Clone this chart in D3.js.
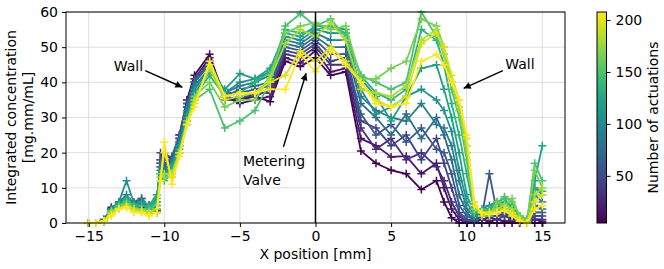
<!DOCTYPE html>
<html>
<head>
<meta charset="utf-8">
<script src="https://cdn.jsdelivr.net/npm/d3@7"></script>
<style>
  body { margin: 0; background: #fff; }
  svg { display: block; font-family: "DejaVu Sans", sans-serif; }
</style>
</head>
<body>
<svg id="chart" width="664" height="269"></svg>
<script>
"use strict"

// x positions of the measurement points [mm]
var xPositions = [-15, -14.5, -14, -13.5, -13, -12.5, -12, -11.5, -11, -10.5, -10.25, -10, -9.5, -9, -8.5, -8,
    -7, -6, -5, -4, -3, -2, -1, 0, 1, 2, 3, 4, 5, 6, 7, 8, 8.5, 9, 9.5, 10, 10.5,
    11, 11.5, 12, 12.5, 13, 13.5, 14, 14.5, 15];

// number of actuations for each profile
var actuations = [5, 15, 30, 45, 60, 75, 90, 105, 120, 135, 150, 165, 180, 195, 208];

// integrated concentration [mg.mm/mL], one profile per actuation count
var act005 = [0, 0, 0.5, 4, 5, 5.5, 5, 4, 5, 3, 17, 20, 18, 25, 35, 42, 48, 35, 35, 36, 34.5, 46, 44.5, 47, 42, 43, 20.5, 17, 15, 14, 9.5, 12, 6, 1.5, 0, 0, 0, 0, 0, 0, 0, 0, 0, 0, 0, 0];
var act015 = [0, 0, 0.5, 4.5, 5, 6, 5.5, 6, 4.5, 3.5, 18, 19, 17, 24, 34, 41, 47, 36, 34, 35, 36, 47, 45.5, 49, 43, 44, 24, 22, 18.8, 19, 14, 17, 10, 4, 1, 0, 0.5, 1, 0.5, 1, 0.5, 0.5, 0, 0, 1, 0.5];
var act030 = [0, 0, 1, 4, 5.5, 6, 5, 5.5, 4, 4, 16, 18, 18, 23, 33, 40, 46, 36, 35, 37, 37, 48, 47, 50, 45, 45, 27, 21, 24, 18, 20, 16, 12, 6, 2, 0.5, 0, 1, 1.5, 1, 2, 1, 0.5, 0, 1, 1];
var act045 = [0, 0, 0.5, 3.5, 5, 6.5, 5, 7, 4, 3.5, 20, 17, 17, 24, 33, 40, 46, 35, 36, 36, 38, 49, 48, 51, 46, 47, 29, 27, 22, 25, 18, 24, 17, 10, 3, 1, 0.5, 2, 2, 2, 2.5, 1.5, 0.5, 0, 2, 2];
var act060 = [0, 0, 0.5, 4, 5.5, 6, 5.5, 5, 5, 4, 18, 16, 19, 25, 34, 41, 46, 37, 37, 38, 39, 50, 49, 52, 48, 48, 31, 25, 28, 23, 27, 21, 20, 14, 5, 2, 1, 2, 14, 3, 3, 2, 1, 0.5, 3, 3];
var act075 = [0, 0, 0.5, 3.5, 6, 7, 6, 7, 4.5, 5, 17, 15, 18, 24, 33, 40, 45, 36, 38, 39, 40, 51, 50, 53, 50, 50, 34, 30, 25, 31, 24, 30, 25, 18, 8, 3, 1, 2.5, 3, 4, 3, 3, 1, 0.5, 5, 4];
var act090 = [0, 0, 1, 4, 6, 8, 5, 6, 5, 6, 16, 15, 17, 23, 32, 39, 44, 37, 39, 40, 42, 52, 51, 54, 52, 52, 36, 32, 30, 29, 34, 28, 27, 22, 12, 4, 2, 3, 4, 5, 4, 4, 1.5, 1, 8, 6];
var act105 = [0, 0, 0.5, 4, 6, 12, 5.5, 5, 4, 7, 15, 14, 16, 22, 31, 38, 44, 37, 40, 41, 43, 53, 52, 55, 54, 54, 38, 31, 33, 36, 38, 35, 32, 26, 15, 6, 2, 4, 5, 6, 5, 5, 2, 1, 10, 8];
var act120 = [0, 0, 0.5, 3.5, 5.5, 7, 5, 6, 5, 8, 14, 13, 16, 22, 30, 37, 43, 38, 42.5, 41, 44, 54, 53, 56, 56, 55, 41, 36, 29, 36, 44, 45, 38, 30, 20, 8, 3, 3, 4, 5, 6, 5, 2, 1, 12, 22];
var act135 = [0, 0, 0.5, 3, 5, 6.5, 5, 5, 4.5, 6, 14, 13, 15, 21, 29, 36, 42, 36, 37, 40, 43, 55, 54, 55, 56, 54, 42, 37, 35, 38, 55, 52, 45, 34, 25, 14, 3, 3, 4, 6, 7, 4, 1.5, 1, 10, 9];
var act150 = [0, 0, 0.5, 3, 5, 6, 4.5, 4, 4, 5, 13, 12, 14, 20, 28, 35, 38, 27, 29, 32, 40, 56, 59.5, 56, 58, 53, 42, 40, 38, 40, 60, 53, 48, 38, 30, 18, 3, 4, 3, 5, 7.5, 6, 2, 1, 17, 12];
var act165 = [0, 0, 0.5, 3.5, 4.5, 5.5, 4, 4, 3, 4, 14, 13, 13, 20, 28, 36, 40, 33, 35, 35, 42, 54, 56, 57, 55, 56, 41, 41, 44, 46, 58, 56, 50, 40, 32, 20, 4, 3, 2, 6, 5, 7, 2, 0.5, 15, 10];
var act180 = [0, 0, 0.5, 3, 4, 5, 4, 3.5, 3, 4, 13, 14, 14, 20, 29, 35, 44, 35, 36, 37, 41, 51, 55, 53, 57, 52, 38, 37, 36, 39, 52, 55, 48, 40, 33, 22, 5, 3, 3, 4, 5, 4, 1, 0, 8, 10];
var act195 = [0, 0, 0.5, 2.5, 4, 4.5, 3.5, 3, 2.5, 3, 12, 20, 13, 20, 28, 34, 45, 36, 37, 37, 40, 42, 49, 46, 50, 46, 40, 35, 33, 36, 51, 54, 50, 42, 35, 24, 6, 2, 3, 3, 4, 3, 1, 0, 6, 8];
var act208 = [0, 0, 0.5, 2, 4, 4.5, 3, 3, 2, 3, 12, 23, 11, 19, 28, 33, 46, 36, 37, 37, 38, 38, 48, 43, 49, 45, 40, 34, 33, 34, 46, 48, 45, 40, 35, 25, 5, 3, 2.5, 3, 3.5, 2, 0.5, 0, 4, 5];

var profiles = [act005, act015, act030, act045, act060, act075, act090, act105, act120, act135,
    act150, act165, act180, act195, act208];

var xTicks = [-15, -10, -5, 0, 5, 10, 15];
var yTicks = [0, 10, 20, 30, 40, 50, 60];
var colorTicks = [50, 100, 150, 200];

var margin = { top: 12, right: 99, bottom: 46, left: 66 };
var svg = d3.select("#chart"),
    width = +svg.attr("width") - margin.left - margin.right,
    height = +svg.attr("height") - margin.top - margin.bottom;

var xScale = d3.scaleLinear().domain([-16.5, 16.5]).range([0, width]);
var yScale = d3.scaleLinear().domain([0, 60]).range([height, 0]);
var colorDomain = [4.6, 207.7];
var colorScale = d3.scaleSequential(d3.interpolateViridis).domain(colorDomain);

var g = svg.append("g")
    .attr("transform", "translate(" + margin.left + "," + margin.top + ")");

// grid
g.append("g").selectAll("line").data(xTicks).enter().append("line")
    .attr("x1", d => xScale(d)).attr("x2", d => xScale(d))
    .attr("y1", 0).attr("y2", height)
    .attr("stroke", "#dddddd").attr("stroke-width", 1);
g.append("g").selectAll("line").data(yTicks).enter().append("line")
    .attr("x1", 0).attr("x2", width)
    .attr("y1", d => yScale(d)).attr("y2", d => yScale(d))
    .attr("stroke", "#dddddd").attr("stroke-width", 1);

g.append("clipPath").attr("id", "clip")
    .append("rect").attr("x", -6).attr("y", -2).attr("width", width + 12).attr("height", height + 8);

var plot = g.append("g").attr("clip-path", "url(#clip)");

var line = d3.line()
    .x((d, i) => xScale(xPositions[i]))
    .y(d => yScale(d));

profiles.forEach(function(values, k) {
    var c = colorScale(actuations[k]);
    var sg = plot.append("g");
    sg.append("path")
        .datum(values)
        .attr("d", line)
        .attr("fill", "none")
        .attr("stroke", c)
        .attr("stroke-width", 1.8)
        .attr("stroke-linejoin", "round");
    sg.selectAll("path.m").data(values).enter().append("path")
        .attr("class", "m")
        .attr("transform", (d, i) => "translate(" + xScale(xPositions[i]) + "," + yScale(d) + ")")
        .attr("d", "M-4,0H4M0,-4V4")
        .attr("stroke", c)
        .attr("stroke-width", 1.5);
});

// vertical line at x = 0
g.append("line")
    .attr("x1", xScale(0)).attr("x2", xScale(0))
    .attr("y1", 0).attr("y2", height)
    .attr("stroke", "#000").attr("stroke-width", 1.5);

// axes
var xAxis = g.append("g")
    .attr("transform", "translate(0," + height + ")")
    .call(d3.axisBottom(xScale).tickValues(xTicks).tickSize(4).tickPadding(4)
        .tickFormat(d => d < 0 ? "\u2212" + Math.abs(d) : d));
var yAxis = g.append("g")
    .call(d3.axisLeft(yScale).tickValues(yTicks).tickSize(4).tickPadding(4));
[xAxis, yAxis].forEach(function(a) {
    a.select(".domain").remove();
    a.selectAll("text").style("font-size", "14px").attr("fill", "#000").style("font-family", "DejaVu Sans");
    a.selectAll("line").attr("stroke", "#000");
});

g.append("rect")
    .attr("width", width).attr("height", height)
    .attr("fill", "none").attr("stroke", "#000").attr("stroke-width", 1);

// axis labels
g.append("text")
    .attr("x", xScale(0)).attr("y", height + 36)
    .attr("text-anchor", "middle")
    .style("font-size", "14px")
    .text("X position [mm]");

var yl = g.append("text")
    .attr("transform", "translate(" + (-48) + "," + (height / 2) + ") rotate(-90)")
    .attr("text-anchor", "middle")
    .style("font-size", "14px");
yl.append("tspan").attr("x", 0).attr("dy", "-0.15em").text("Integrated concentration");
yl.append("tspan").attr("x", 0).attr("dy", "1.2em").text("[mg.mm/mL]");

// annotations
var defs = svg.append("defs");
defs.append("marker")
    .attr("id", "head")
    .attr("viewBox", "0 0 10 10")
    .attr("refX", 10).attr("refY", 5)
    .attr("markerWidth", 9).attr("markerHeight", 7)
    .attr("markerUnits", "userSpaceOnUse")
    .attr("orient", "auto")
    .append("path").attr("d", "M0,0L10,5L0,10z").attr("fill", "#000");

var notes = [
    { text: ["Wall"], tx: -11.4, ty: 43.2, anchor: "end", ax: -11.26, ay: 43.3, hx: -8.8, hy: 38.6 },
    { text: ["Metering", "Valve"], tx: -4.8, ty: 16.1, anchor: "start", ax: -2.12, ay: 21.7, hx: -0.62, hy: 42.6 },
    { text: ["Wall"], tx: 12.55, ty: 43.8, anchor: "start", ax: 12.39, ay: 43.3, hx: 9.8, hy: 38.3 }
];
notes.forEach(function(n) {
    var t = g.append("text")
        .attr("x", xScale(n.tx)).attr("y", yScale(n.ty))
        .attr("text-anchor", n.anchor)
        .style("font-size", "14px");
    n.text.forEach(function(s, i) {
        t.append("tspan").attr("x", xScale(n.tx)).attr("dy", i ? "1.3em" : 0).text(s);
    });
    g.append("line")
        .attr("x1", xScale(n.ax)).attr("y1", yScale(n.ay))
        .attr("x2", xScale(n.hx)).attr("y2", yScale(n.hy))
        .attr("stroke", "#000").attr("stroke-width", 1.4)
        .attr("marker-end", "url(#head)");
});

// colorbar
var cbX = 597, cbW = 9.5;
var cbScale = d3.scaleLinear().domain(colorDomain).range([margin.top + height, margin.top]);
var grad = defs.append("linearGradient")
    .attr("id", "viridis").attr("x1", 0).attr("x2", 0).attr("y1", 1).attr("y2", 0);
d3.range(0, 1.0001, 0.05).forEach(function(t) {
    grad.append("stop").attr("offset", t).attr("stop-color", d3.interpolateViridis(t));
});
svg.append("rect")
    .attr("x", cbX).attr("y", margin.top)
    .attr("width", cbW).attr("height", height)
    .attr("fill", "url(#viridis)")
    .attr("stroke", "#000").attr("stroke-width", 1);
var cbAxis = svg.append("g")
    .attr("transform", "translate(" + (cbX + cbW) + ",0)")
    .call(d3.axisRight(cbScale).tickValues(colorTicks).tickSize(4).tickPadding(5));
cbAxis.select(".domain").remove();
cbAxis.selectAll("text").style("font-size", "14px").attr("fill", "#000").style("font-family", "DejaVu Sans");
cbAxis.selectAll("line").attr("stroke", "#000");

svg.append("text")
    .attr("transform", "translate(" + 653 + "," + (margin.top + height / 2) + ") rotate(-90)")
    .attr("text-anchor", "middle")
    .attr("dy", "0.35em")
    .style("font-size", "14px")
    .text("Number of actuations");
</script>
</body>
</html>
